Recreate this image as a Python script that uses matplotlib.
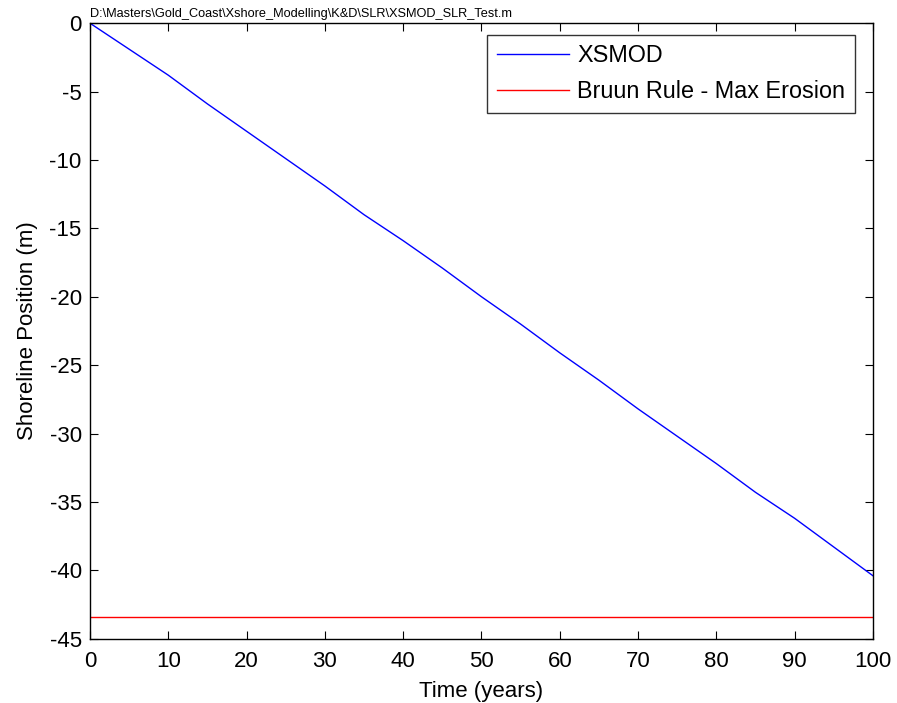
import matplotlib
matplotlib.use("Agg")
import matplotlib.pyplot as plt

plt.rcParams['font.family'] = ['Liberation Sans', 'DejaVu Sans']
plt.rcParams['axes.unicode_minus'] = False

years = [0, 5, 10, 15, 20, 25, 30, 35, 40, 45, 50, 55, 60, 65, 70, 75, 80, 85, 90, 95, 100]
xsmod = [0, -1.9, -3.8, -5.9, -7.9, -9.9, -11.9, -14.0, -15.9, -17.9, -20.0,
         -22.0, -24.1, -26.1, -28.2, -30.2, -32.2, -34.3, -36.2, -38.3, -40.4]
bruun_x = [0, 100]
bruun_y = [-43.44, -43.44]
x_ticks = [0, 10, 20, 30, 40, 50, 60, 70, 80, 90, 100]
y_ticks = [0, -5, -10, -15, -20, -25, -30, -35, -40, -45]

fig = plt.figure(figsize=(8.97, 7.03), dpi=100)
ax = fig.add_axes([0.1003, 0.0915, 0.8729, 0.8755])
ax.plot(years, xsmod, color='blue', lw=1.0, label='XSMOD')
ax.plot(bruun_x, bruun_y, color='red', lw=1.0, label='Bruun Rule - Max Erosion')
ax.set_xlim(0, 100)
ax.set_ylim(-45, 0)
ax.set_xticks(x_ticks)
ax.set_yticks(y_ticks)
ax.tick_params(direction='in', top=True, right=True, labelsize=16, length=5.5, width=0.8)
ax.tick_params(axis='x', pad=9)
ax.tick_params(axis='y', pad=6)
for s in ax.spines.values():
    s.set_linewidth(1.0)
ax.set_xlabel('Time (years)', fontsize=16, labelpad=6)
ax.set_ylabel('Shoreline Position (m)', fontsize=16, labelpad=8)
ax.text(0, 1.006, r'D:\Masters\Gold_Coast\Xshore_Modelling\K&D\SLR\XSMOD_SLR_Test.m',
        transform=ax.transAxes, fontsize=9.2, ha='left', va='bottom')
leg = ax.legend(loc='upper right', bbox_to_anchor=(0.977, 0.9816), fontsize=16.8,
                frameon=True, fancybox=False, edgecolor='black', borderpad=0.42,
                handlelength=3.1, handletextpad=0.34, labelspacing=0.56, borderaxespad=0)
leg.get_frame().set_linewidth(1.0)
fig.savefig('out.png', dpi=100)
